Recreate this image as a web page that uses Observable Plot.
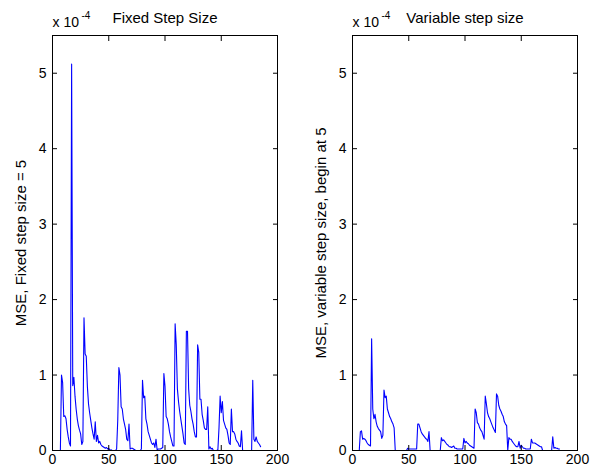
<!DOCTYPE html>
<html>
<head>
<meta charset="utf-8">
<script src="https://cdn.jsdelivr.net/npm/d3@7"></script>
<script src="https://cdn.jsdelivr.net/npm/@observablehq/plot@0.6"></script>
<style>
  html, body { margin: 0; padding: 0; background: #fff; }
  #wrap { position: relative; width: 590px; height: 471px; font-family: "Liberation Sans", Arial, sans-serif; }
  #wrap svg { position: absolute; top: 0; }
</style>
</head>
<body>
<div id="wrap"></div>
<script>
// MSE values (units of 1e-4), sample index starts at 1
const fixedMSE = [
  0,0,0,0,0,0,0,1.0,0.9,0.45,
  0.46,0.42,0.28,0.18,0.1,0.06,5.12,0.86,0.97,0.72,
  0.55,0.42,0.33,0.27,0.22,0.08,0.12,1.76,1.28,1.25,
  0.85,0.62,0.5,0.4,0.3,0.22,0.15,0.38,0.12,0.2,
  0.1,0.12,0.08,0.06,0.05,0.04,0.03,0.04,0.02,0.03,
  0,0.01,0,0,0,0,0.02,0.4,1.1,1.0,
  0.58,0.55,0.42,0.35,0.28,0.15,0.13,0.35,0.02,0.03,
  0.03,0.02,0.01,0,0,0,0,0,0.02,0.93,
  0.7,0.72,0.42,0.35,0.25,0.2,0.15,0.1,0.08,0.1,
  0.04,0.15,0.01,0.02,0.02,0.02,0.03,0.04,1.02,0.85,
  0.45,0.42,0.35,0.25,0.18,0.12,0.06,0.06,1.68,1.4,
  0.82,0.65,0.52,0.42,0.32,0.22,0.1,0.08,1.58,1.58,
  0.82,0.6,0.52,0.42,0.35,0.25,0.18,0.18,1.4,1.3,
  0.68,0.68,0.48,0.4,0.3,0.28,0.28,0.58,0.02,0.05,
  0.02,0.03,0,0,0,0,0.01,0.3,0.72,0.5,
  0.65,0.4,0.35,0.3,0.28,0.2,0.1,0.08,0.55,0.25,
  0.25,0.22,0.15,0.12,0.1,0.06,0.05,0.26,0,0,
  0,0,0,0,0,0,0,0.93,0.15,0.12,
  0.18,0.12,0.1,0.08,0.05
];
const variableMSE = [
  0,0,0,0,0,0,0.25,0.26,0.15,0.16,
  0.15,0.13,0.1,0.08,0.07,0.06,1.48,0.55,0.42,0.48,
  0.38,0.32,0.29,0.27,0.25,0.16,0.2,0.8,0.7,0.72,
  0.55,0.5,0.45,0.42,0.38,0.35,0.3,0,0,0,
  0,0,0,0,0,0,0,0,0.03,0.02,
  0.02,0.02,0.02,0.02,0.02,0.02,0.02,0.35,0.35,0.3,
  0.25,0.22,0.2,0.18,0.16,0.15,0.12,0.25,0,0,
  0,0,0,0,0,0,0,0,0.17,0.13,
  0.14,0.12,0.1,0.08,0.07,0.05,0.05,0.04,0.05,0.06,
  0.03,0.03,0.02,0.02,0.02,0.02,0.02,0.02,0.16,0.1,
  0.12,0.1,0.09,0.07,0.06,0.05,0.04,0.03,0.55,0.5,
  0.37,0.35,0.3,0.27,0.25,0.2,0.15,0.72,0.62,0.5,
  0.45,0.42,0.38,0.34,0.3,0.27,0.24,0.75,0.72,0.6,
  0.55,0.52,0.48,0.45,0.38,0.35,0.33,0,0.17,0.15,
  0.15,0.12,0.1,0.08,0.06,0.05,0.05,0.12,0.03,0.07,
  0.05,0.03,0.03,0.02,0.02,0.02,0.02,0.02,0.15,0.1,
  0.1,0.1,0.09,0.08,0.07,0.06,0.05,0.05,0,0,
  0,0,0,0,0,0,0,0.18,0.03,0.04,
  0.03,0.03,0.02,0.02
];
const xTicks = [0, 50, 100, 150, 200];
const yTicks = [0, 1, 2, 3, 4, 5];
const titles = ["Fixed Step Size", "Variable step size"];
const yLabels = ["MSE, Fixed step size = 5", "MSE, variable step size, begin at 5"];
const scaleText = "x 10";
const scaleExp = "-4";

function panel(values, title, ylabel) {
  const data = values.map((v, i) => ({x: i + 1, y: v}));
  const svg = Plot.plot({
    width: 295, height: 471,
    marginLeft: 52, marginRight: 18, marginTop: 35, marginBottom: 21,
    style: {fontFamily: "'Liberation Sans', Arial, sans-serif", background: "white", color: "black"},
    x: {domain: [0, 200], ticks: xTicks},
    y: {domain: [0, 5.5], ticks: yTicks},
    marks: [
      Plot.line(data, {x: "x", y: "y", stroke: "#0000ff", strokeWidth: 1.1}),
      Plot.frame({stroke: "black", strokeWidth: 1}),
      Plot.axisX({anchor: "bottom", ticks: xTicks, tickSize: -5, tickPadding: 9, fontSize: 14, tickFormat: d => String(d), label: null}),
      Plot.axisX({anchor: "top", ticks: xTicks, tickSize: -5, tickFormat: () => "", label: null}),
      Plot.axisY({anchor: "left", ticks: yTicks, tickSize: -5, tickPadding: 11, fontSize: 14, tickFormat: d => String(d), label: null}),
      Plot.axisY({anchor: "right", ticks: yTicks, tickSize: -5, tickFormat: () => "", label: null}),
      Plot.text([title], {frameAnchor: "top", dy: -17.5, fontSize: 15, lineAnchor: "middle", textAnchor: "middle", ariaLabel: "ptitle"}),
      Plot.text([scaleText], {frameAnchor: "top-left", dy: -13, textAnchor: "start", fontSize: 14, lineAnchor: "middle"}),
      Plot.text([scaleExp], {frameAnchor: "top-left", dx: 29, dy: -20, textAnchor: "start", fontSize: 10, lineAnchor: "middle"}),
      Plot.text([ylabel], {frameAnchor: "left", dx: -31, rotate: -90, fontSize: 15, lineAnchor: "middle", textAnchor: "middle", ariaLabel: "ylab"})
    ]
  });
  d3.select(svg).selectAll("g[aria-label=ptitle] text").style("letter-spacing", "0.5px");
  d3.select(svg).selectAll("g[aria-label=ylab] text").style("letter-spacing", "1.6px");
  return svg;
}

const wrap = document.getElementById("wrap");
const p1 = panel(fixedMSE, titles[0], yLabels[0]);
p1.style.left = "0px";
const p2 = panel(variableMSE, titles[1], yLabels[1]);
p2.style.left = "300px";
wrap.appendChild(p1);
wrap.appendChild(p2);
</script>
</body>
</html>
